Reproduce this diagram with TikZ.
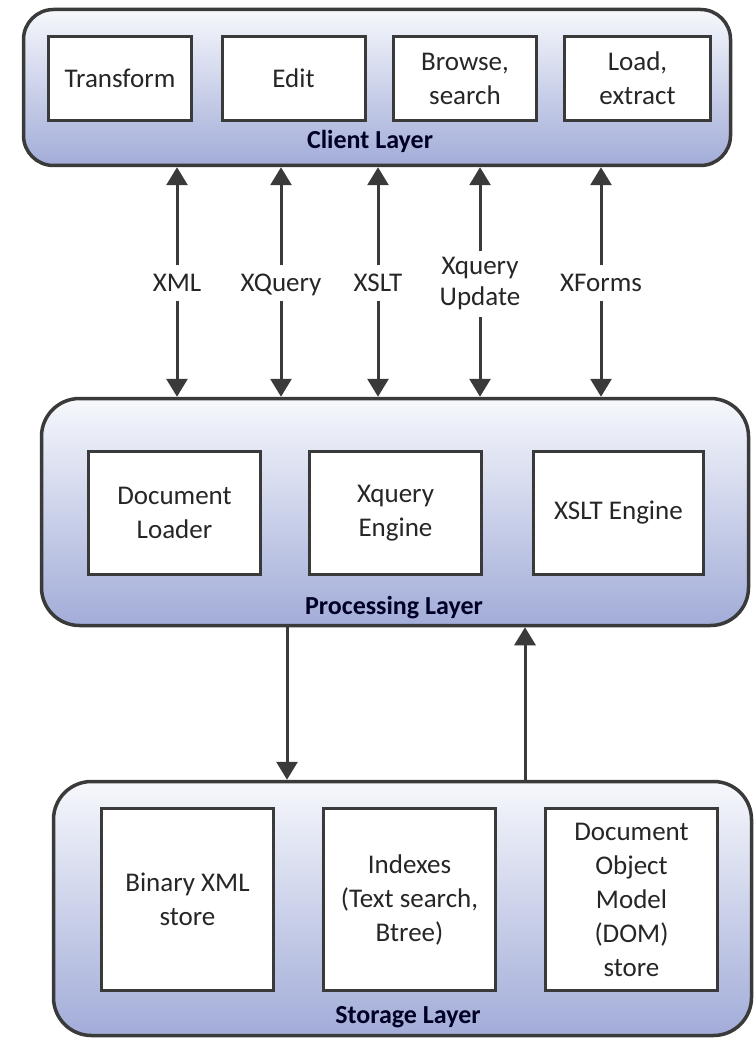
\documentclass[tikz,border=0pt]{standalone}
\usepackage{fontspec}
\setmainfont{Carlito}
\usetikzlibrary{arrows.meta}
\definecolor{edge}{HTML}{3A3A3A}
\definecolor{ink}{HTML}{262626}
\definecolor{layertop}{HTML}{F6F8FC}
\definecolor{layerbot}{HTML}{A2ACD8}
\begin{document}
\begin{tikzpicture}[x=1pt,y=-1pt,
  >={Triangle[length=18pt,width=21pt]},
  layer/.style={draw=edge, line width=3.5pt, rounded corners=#1,
    top color=layertop, bottom color=layerbot, inner sep=0pt},
  box/.style={draw=edge, line width=3pt, fill=white, align=center,
    inner sep=0pt, text=ink, font=\fontsize{27}{34}\selectfont},
  layerlbl/.style={text=black!85!blue, inner sep=0pt,
    font=\fontsize{26}{30}\selectfont\bfseries},
  conlbl/.style={text=ink, align=center, inner xsep=2pt, inner ysep=9pt,
    text height=17pt, text depth=0pt, font=\fontsize{27}{31}\selectfont},
  conlbltwo/.style={text=ink, align=center, inner xsep=2pt, inner ysep=6pt,
    font=\fontsize{27}{31}\selectfont},
  arr/.style={draw=edge, line width=3pt}
]
\fill[white] (0,0) rectangle (755,1040);
\useasboundingbox (0,0) rectangle (755,1040);

% layers
\node[layer=30, minimum width=707pt, minimum height=156pt] (client) at (377,87.5) {};
\node[layer=38, minimum width=707pt, minimum height=227pt] (proc) at (395,512) {};
\node[layer=38, minimum width=698pt, minimum height=254pt] (store) at (402.5,908.5) {};

% client boxes
\node[box, minimum width=143pt, minimum height=84pt] (transform) at (120,78.5) {Transform};
\node[box, minimum width=143pt, minimum height=84pt] (edit) at (293.5,78.5) {Edit};
\node[box, minimum width=143pt, minimum height=84pt] (browse) at (465,78.5) {Browse,\\search};
\node[box, minimum width=146pt, minimum height=84pt] (load) at (637.5,78.5) {Load,\\extract};
\node[layerlbl] (clientlbl) at (370,141) {Client Layer};

% processing boxes
\node[box, minimum width=172pt, minimum height=123pt] (loader) at (174.5,513) {Document\\Loader};
\node[box, minimum width=172pt, minimum height=123pt] (xqengine) at (395.5,513) {Xquery\\Engine};
\node[box, minimum width=170pt, minimum height=123pt] (xslteng) at (618.5,513) {XSLT Engine};
\node[layerlbl] (proclbl) at (394,608) {Processing Layer};

% storage boxes
\node[box, minimum width=172pt, minimum height=182pt] (binary) at (187.5,899.5) {Binary XML\\store};
\node[box, minimum width=172pt, minimum height=182pt] (indexes) at (409.5,899.5) {Indexes\\(Text search,\\Btree)};
\node[box, minimum width=172pt, minimum height=182pt] (dom) at (631.5,899.5) {Document\\Object\\Model\\(DOM)\\store};
\node[layerlbl] (storelbl) at (408,1017) {Storage Layer};

% connector labels
\node[conlbl] (lxml) at (177,283) {XML};
\node[conlbl] (lxquery) at (281,283) {XQuery};
\node[conlbl] (lxslt) at (378,283) {XSLT};
\node[conlbltwo] (lupd) at (480,284) {Xquery\\Update};
\node[conlbl] (lxforms) at (601,283) {XForms};

\foreach \l in {lxml,lxquery,lxslt,lupd,lxforms}{
  \draw[arr,->] (\l) -- (\l |- client.south);
  \draw[arr,->] (\l) -- (\l |- proc.north);
}

% processing <-> storage
\coordinate (dn) at (287,700);
\coordinate (up) at (525,700);
\draw[arr,->] (dn |- proc.south) -- (dn |- store.north);
\draw[arr,->] (up |- store.north) -- (up |- proc.south);
\end{tikzpicture}
\end{document}
